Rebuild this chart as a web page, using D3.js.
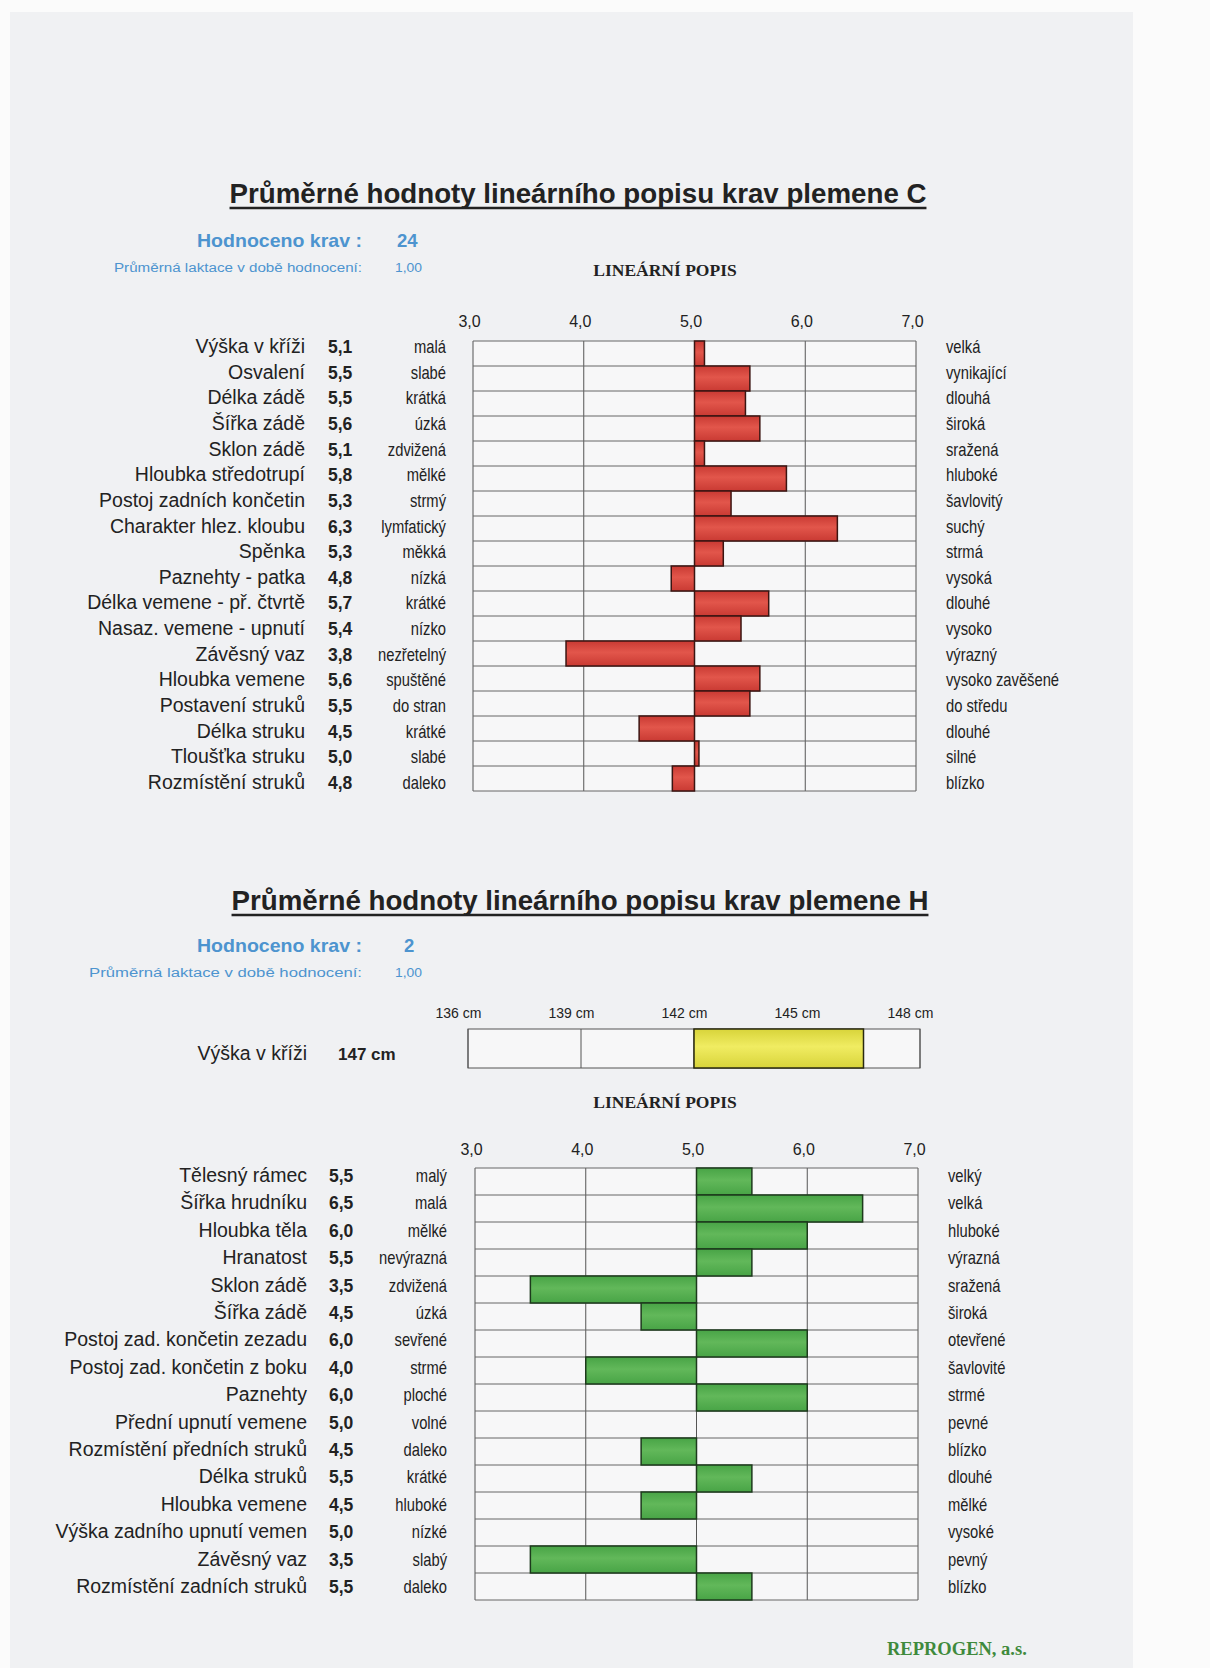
<!DOCTYPE html>
<html>
<head>
<meta charset="utf-8">
<script src="https://cdn.jsdelivr.net/npm/d3@7"></script>
<style>
  html, body { margin: 0; padding: 0; background: #fbfbfb; }
  svg text { font-family: 'Liberation Sans', Arial, sans-serif; }
</style>
</head>
<body>
<div id="chart"></div>
<script>
// plemeno C
const namesC = ['Výška v kříži', 'Osvalení', 'Délka zádě', 'Šířka zádě', 'Sklon zádě ', 'Hloubka středotrupí',
  'Postoj zadních končetin', 'Charakter hlez. kloubu', 'Spěnka', 'Paznehty - patka', 'Délka vemene - př. čtvrtě',
  'Nasaz. vemene - upnutí', 'Závěsný vaz', 'Hloubka vemene', 'Postavení struků', 'Délka struku',
  'Tloušťka struku', 'Rozmístění struků'];
const valuesC = [5.09, 5.5, 5.46, 5.59, 5.09, 5.83, 5.33, 6.29, 5.26, 4.79, 5.67, 5.42, 3.84, 5.59, 5.5, 4.5, 5.04, 4.8];
const lowC = ['malá', 'slabé', 'krátká', 'úzká', 'zdvižená', 'mělké', 'strmý', 'lymfatický', 'měkká', 'nízká',
  'krátké', 'nízko', 'nezřetelný', 'spuštěné', 'do stran', 'krátké', 'slabé', 'daleko'];
const highC = ['velká', 'vynikající', 'dlouhá', 'široká', 'sražená', 'hluboké', 'šavlovitý', 'suchý', 'strmá',
  'vysoká', 'dlouhé', 'vysoko', 'výrazný', 'vysoko zavěšené', 'do středu', 'dlouhé', 'silné', 'blízko'];

// plemeno H
const namesH = ['Tělesný rámec', 'Šířka hrudníku', 'Hloubka těla', 'Hranatost', 'Sklon zádě', 'Šířka zádě',
  'Postoj zad. končetin zezadu', 'Postoj zad. končetin z boku', 'Paznehty', 'Přední upnutí vemene',
  'Rozmístění předních struků', 'Délka struků', 'Hloubka vemene', 'Výška zadního upnutí vemen',
  'Závěsný vaz', 'Rozmístění zadních struků'];
const valuesH = [5.5, 6.5, 6.0, 5.5, 3.5, 4.5, 6.0, 4.0, 6.0, 5.0, 4.5, 5.5, 4.5, 5.0, 3.5, 5.5];
const lowH = ['malý', 'malá', 'mělké', 'nevýrazná', 'zdvižená', 'úzká', 'sevřené', 'strmé', 'ploché', 'volné',
  'daleko', 'krátké', 'hluboké', 'nízké', 'slabý', 'daleko'];
const highH = ['velký', 'velká', 'hluboké', 'výrazná', 'sražená', 'široká', 'otevřené', 'šavlovité', 'strmé',
  'pevné', 'blízko', 'dlouhé', 'mělké', 'vysoké', 'pevný', 'blízko'];

const scoreTicks = [3, 4, 5, 6, 7];
const heightTicks = [136, 139, 142, 145, 148];
const heightH = 146.5;

const W = 1210, H = 1668;
const comma = v => d3.format('.1f')(v).replace('.', ',');
const blue = '#4d94cf';

const svg = d3.select('#chart').append('svg')
  .attr('width', W)
  .attr('height', H);

const defs = svg.append('defs');
function grad(id, edge, mid) {
  const g = defs.append('linearGradient').attr('id', id)
    .attr('x1', 0).attr('y1', 0).attr('x2', 0).attr('y2', 1);
  g.append('stop').attr('offset', '0%').attr('stop-color', edge);
  g.append('stop').attr('offset', '45%').attr('stop-color', mid);
  g.append('stop').attr('offset', '100%').attr('stop-color', edge);
}
grad('red', '#c93a33', '#e2564b');
grad('green', '#48a446', '#62b85a');
grad('yellow', '#d8d43a', '#f0ec62');

// scanned page
svg.append('rect').attr('x', 10).attr('y', 12).attr('width', 1123).attr('height', H - 12).attr('fill', '#f0f1f3');

function header(cfg) {
  const t = svg.append('text')
    .attr('x', cfg.titleX).attr('y', cfg.titleY)
    .attr('text-anchor', 'middle')
    .style('font-size', '27.7px').style('font-weight', 'bold').attr('fill', '#222')
    .text(cfg.title);
  const b = t.node().getBBox();
  svg.append('line')
    .attr('x1', b.x).attr('x2', b.x + b.width)
    .attr('y1', cfg.titleY + 5).attr('y2', cfg.titleY + 5)
    .attr('stroke', '#222').attr('stroke-width', 2.5);

  svg.append('text').attr('x', 197).attr('y', cfg.countY)
    .attr('textLength', 165).attr('lengthAdjust', 'spacingAndGlyphs')
    .style('font-size', '18.5px').style('font-weight', 'bold').attr('fill', blue)
    .text('Hodnoceno krav :');
  svg.append('text').attr('x', cfg.countX).attr('y', cfg.countY)
    .style('font-size', '18.5px').style('font-weight', 'bold').attr('fill', blue)
    .text(cfg.count);
  svg.append('text').attr('x', cfg.lakX).attr('y', cfg.countY + 25)
    .attr('textLength', 362 - cfg.lakX).attr('lengthAdjust', 'spacingAndGlyphs')
    .style('font-size', '12px').attr('fill', blue)
    .text('Průměrná laktace v době hodnocení:');
  svg.append('text').attr('x', 395).attr('y', cfg.countY + 25)
    .attr('textLength', 27).attr('lengthAdjust', 'spacingAndGlyphs')
    .style('font-size', '12px').attr('fill', blue)
    .text('1,00');
}

function linTitle(y) {
  svg.append('text').attr('x', 665).attr('y', y)
    .attr('text-anchor', 'middle')
    .style('font-family', "'Liberation Serif', 'Times New Roman', serif")
    .style('font-size', '17.5px').style('font-weight', 'bold').attr('fill', '#222')
    .text('LINEÁRNÍ POPIS');
}

function narrow(g, x, y, anchor, txt) {
  g.append('g').attr('transform', `translate(${x},${y}) scale(0.82,1)`)
    .append('text').attr('text-anchor', anchor)
    .style('font-size', '18px').attr('fill', '#222')
    .text(txt);
}

function barChart(cfg) {
  const g = svg.append('g');
  const x = d3.scaleLinear().domain([3, 7]).range([cfg.x0, cfg.x1]);
  const y = d3.scaleBand().domain(d3.range(cfg.names.length)).range([cfg.y0, cfg.y1]);
  const ty = d3.scaleLinear().domain([0, cfg.names.length - 1]).range([cfg.t0, cfg.t1]);

  g.append('rect').attr('x', cfg.x0).attr('y', cfg.y0)
    .attr('width', cfg.x1 - cfg.x0).attr('height', cfg.y1 - cfg.y0)
    .attr('fill', '#f7f7f8');

  // gridlines
  g.selectAll('.vl').data(scoreTicks).enter().append('line')
    .attr('x1', d => x(d)).attr('x2', d => x(d))
    .attr('y1', cfg.y0).attr('y2', cfg.y1)
    .attr('stroke', '#555').attr('stroke-width', 1);
  g.selectAll('.hl').data(d3.range(cfg.names.length + 1)).enter().append('line')
    .attr('x1', cfg.x0).attr('x2', cfg.x1)
    .attr('y1', d => cfg.y0 + d * y.step()).attr('y2', d => cfg.y0 + d * y.step())
    .attr('stroke', '#666').attr('stroke-width', 1);

  // axis labels on top
  const ax = g.append('g')
    .attr('transform', `translate(-4,${cfg.tickY})`)
    .call(d3.axisTop(x).tickValues(scoreTicks).tickFormat(comma).tickSize(0).tickPadding(0));
  ax.select('.domain').remove();
  ax.selectAll('text').style('font-size', '16px')
    .style('font-family', "'Liberation Sans', Arial, sans-serif").attr('fill', '#222').attr('dy', 0);

  // bars
  g.selectAll('.bar').data(cfg.values).enter().append('rect')
    .attr('x', d => x(Math.min(d, 5)))
    .attr('y', (d, i) => y(i))
    .attr('width', d => Math.abs(x(d) - x(5)))
    .attr('height', y.bandwidth())
    .attr('fill', `url(#${cfg.color})`)
    .attr('stroke', cfg.stroke).attr('stroke-width', 1.5)
    .style('display', d => d === 5 ? 'none' : null);

  // row texts
  cfg.names.forEach((n, i) => {
    g.append('text').attr('x', cfg.nameX).attr('y', ty(i))
      .attr('text-anchor', 'end').style('font-size', '19.5px').attr('fill', '#222')
      .text(n);
    g.append('text').attr('x', cfg.valX).attr('y', ty(i))
      .style('font-size', '17.5px').style('font-weight', 'bold').attr('fill', '#222')
      .text(comma(cfg.values[i]));
    narrow(g, cfg.lowX, ty(i), 'end', cfg.low[i]);
    narrow(g, cfg.highX, ty(i), 'start', cfg.high[i]);
  });
}

// ---- C ----
header({ title: 'Průměrné hodnoty lineárního popisu krav plemene C', titleX: 578, titleY: 203,
  count: '24', countX: 397, countY: 247, lakX: 114 });
linTitle(276);
barChart({ names: namesC, values: valuesC, low: lowC, high: highC,
  x0: 473, x1: 916, y0: 341, y1: 791, t0: 353, t1: 789, tickY: 327,
  nameX: 305, valX: 328, lowX: 446, highX: 946, color: 'red', stroke: '#3b1512' });

// ---- H ----
header({ title: 'Průměrné hodnoty lineárního popisu krav plemene H', titleX: 580, titleY: 910,
  count: '2', countX: 404, countY: 952, lakX: 89 });

// height in cm
const hx = d3.scaleLinear().domain([136, 148]).range([468, 920]);
const hg = svg.append('g');
hg.append('rect').attr('x', 468).attr('y', 1029).attr('width', 452).attr('height', 39)
  .attr('fill', '#f7f7f8').attr('stroke', '#555');
hg.selectAll('.hv').data(heightTicks).enter().append('line')
  .attr('x1', d => hx(d)).attr('x2', d => hx(d)).attr('y1', 1029).attr('y2', 1068)
  .attr('stroke', '#555');
hg.append('rect')
  .attr('x', hx(142)).attr('y', 1029)
  .attr('width', hx(heightH) - hx(142)).attr('height', 39)
  .attr('fill', 'url(#yellow)').attr('stroke', '#2a2a10').attr('stroke-width', 1.5);
const hax = hg.append('g').attr('transform', 'translate(-10,1018)')
  .call(d3.axisTop(hx).tickValues(heightTicks).tickFormat(d => d + ' cm').tickSize(0).tickPadding(0));
hax.select('.domain').remove();
hax.selectAll('text').style('font-size', '14px')
  .style('font-family', "'Liberation Sans', Arial, sans-serif").attr('fill', '#222').attr('dy', 0);
hg.append('text').attr('x', 307).attr('y', 1060).attr('text-anchor', 'end')
  .style('font-size', '19.5px').attr('fill', '#222').text('Výška v kříži');
hg.append('text').attr('x', 338).attr('y', 1060)
  .style('font-size', '17px').style('font-weight', 'bold').attr('fill', '#222')
  .text(Math.round(heightH) + ' cm');

linTitle(1108);
barChart({ names: namesH, values: valuesH, low: lowH, high: highH,
  x0: 475, x1: 918, y0: 1168, y1: 1600, t0: 1182, t1: 1593, tickY: 1155,
  nameX: 307, valX: 329, lowX: 447, highX: 948, color: 'green', stroke: '#1d3a1c' });

svg.append('text').attr('x', 887).attr('y', 1655)
  .style('font-family', "'Liberation Serif', 'Times New Roman', serif")
  .style('font-size', '18.5px').style('font-weight', 'bold').attr('fill', '#3f8a3c')
  .text('REPROGEN, a.s.');
</script>
</body>
</html>
